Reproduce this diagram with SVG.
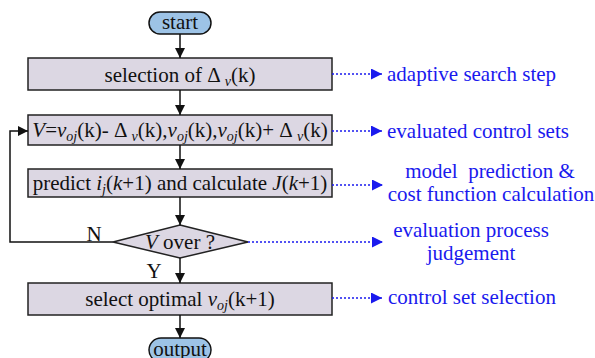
<svg xmlns="http://www.w3.org/2000/svg" width="595" height="358" viewBox="0 0 595 358" font-family="'Liberation Serif', 'DejaVu Serif', serif">
<defs>
<style>
.box{fill:#dcd7e3;stroke:#222;stroke-width:1.5}
.pill{fill:#9dc3e6;stroke:#111;stroke-width:1.5}
text{font-family:'Liberation Serif','DejaVu Serif',serif}
.t{font-size:21px;fill:#111;text-anchor:middle}
.b{font-size:21px;fill:#1a1aee}
.bc{text-anchor:middle}
.i{font-style:italic}
.s{font-style:italic;font-size:14px}
.flow{fill:none;stroke:#111;stroke-width:1.5}
.dot{fill:none;stroke:#1a1aee;stroke-width:1.5;stroke-dasharray:2,2}
</style>
<marker id="ah" markerWidth="10" markerHeight="10" refX="10" refY="5" orient="auto" markerUnits="userSpaceOnUse">
<path d="M0,0 L10,5 L0,10 Z" fill="#111"/>
</marker>
<marker id="bh" markerWidth="11" markerHeight="11" refX="11" refY="5.5" orient="auto" markerUnits="userSpaceOnUse">
<path d="M0,0 L11,5.5 L0,11 Z" fill="#1a1aee"/>
</marker>
</defs>
<g id="start">
<rect class="pill" x="149" y="12" width="62" height="22" rx="11"/>
<text class="t" x="180" y="29">start</text>
</g>
<g id="sel">
<rect class="box" x="28" y="58" width="304" height="32"/>
<text class="t" x="180" y="82">selection of Δ <tspan class="s" dy="4">v</tspan><tspan dy="-4">(k)</tspan></text>
</g>
<g id="cset">
<rect class="box" x="28" y="115" width="304" height="30"/>
<text class="t" x="180" y="137"><tspan class="i">V</tspan>=<tspan class="i">v</tspan><tspan class="s" dy="4">oj</tspan><tspan dy="-4">(k)- Δ </tspan><tspan class="s" dy="4">v</tspan><tspan dy="-4">(k),</tspan><tspan class="i">v</tspan><tspan class="s" dy="4">oj</tspan><tspan dy="-4">(k),</tspan><tspan class="i">v</tspan><tspan class="s" dy="4">oj</tspan><tspan dy="-4">(k)+ Δ </tspan><tspan class="s" dy="4">v</tspan><tspan dy="-4">(k)</tspan></text>
</g>
<g id="pred">
<rect class="box" x="28" y="169" width="304" height="28"/>
<text class="t" x="180" y="190">predict <tspan class="i">i</tspan><tspan class="s" dy="4">j</tspan><tspan dy="-4">(</tspan><tspan class="i">k</tspan>+1) and calculate <tspan class="i">J</tspan>(<tspan class="i">k</tspan>+1)</text>
</g>
<g id="judge">
<polygon class="box" points="180,225 248,242 180,258 113,242"/>
<text class="t" x="180" y="249"><tspan class="i">V</tspan> over ?</text>
</g>
<g id="opt">
<rect class="box" x="28" y="283" width="304" height="32"/>
<text class="t" x="180" y="306">select optimal <tspan class="i">v</tspan><tspan class="s" dy="4">oj</tspan><tspan dy="-4">(k+1)</tspan></text>
</g>
<g id="output">
<rect class="pill" x="149" y="338" width="62" height="24" rx="12"/>
<text class="t" x="180" y="356">output</text>
</g>
<g id="connectors">
<line class="flow" x1="180" y1="34" x2="180" y2="58" marker-end="url(#ah)"/>
<line class="flow" x1="180" y1="90" x2="180" y2="115" marker-end="url(#ah)"/>
<line class="flow" x1="180" y1="145" x2="180" y2="169" marker-end="url(#ah)"/>
<line class="flow" x1="180" y1="197" x2="180" y2="225" marker-end="url(#ah)"/>
<line class="flow" x1="180" y1="258" x2="180" y2="283" marker-end="url(#ah)"/>
<line class="flow" x1="180" y1="315" x2="180" y2="338" marker-end="url(#ah)"/>
<polyline class="flow" points="113,242 10,242 10,131 28,131" marker-end="url(#ah)"/>
<text class="t" x="94" y="241">N</text>
<text class="t" x="154" y="278">Y</text>
<line class="dot" x1="332" y1="74" x2="382" y2="74" marker-end="url(#bh)"/>
<line class="dot" x1="332" y1="131" x2="382" y2="131" marker-end="url(#bh)"/>
<line class="dot" x1="332" y1="185" x2="383" y2="185" marker-end="url(#bh)"/>
<line class="dot" x1="248" y1="242" x2="383" y2="242" marker-end="url(#bh)"/>
<line class="dot" x1="332" y1="298" x2="382" y2="298" marker-end="url(#bh)"/>
</g>
<g id="labels">
<text class="b" x="387" y="81">adaptive search step</text>
<text class="b" x="387" y="138">evaluated control sets</text>
<text class="b bc" x="490" y="178" xml:space="preserve">model  prediction &amp;</text>
<text class="b bc" x="491" y="201">cost function calculation</text>
<text class="b bc" x="471" y="237">evaluation process</text>
<text class="b bc" x="471" y="260">judgement</text>
<text class="b" x="388" y="304">control set selection</text>
</g>
</svg>
